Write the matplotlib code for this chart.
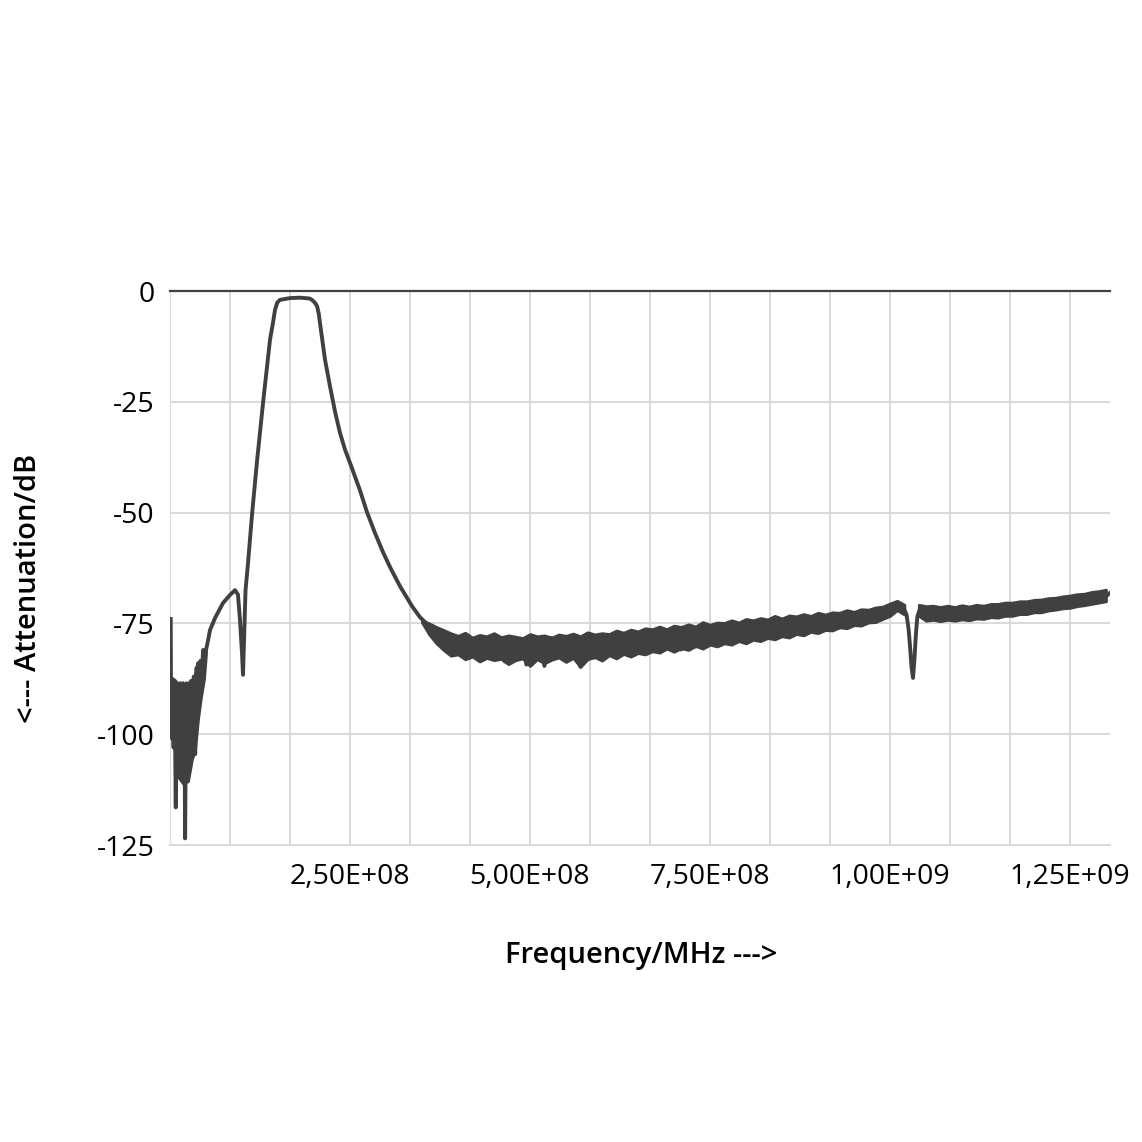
import numpy as np
import matplotlib
matplotlib.use("Agg")
import matplotlib.pyplot as plt
from matplotlib.ticker import FuncFormatter, MultipleLocator

# --- data (frequency in MHz, attenuation in dB) ---

# noisy start of the sweep
low_mhz = [1, 1.5, 2, 3, 4, 5, 6, 7, 8, 9, 10, 11, 12, 13, 14, 15, 16, 17, 18, 19,
           20, 21, 22, 23, 24, 25, 26, 27, 28, 29, 30, 31, 32, 33, 34, 35, 36, 37,
           38, 39, 40, 42, 44, 46, 48]
low_db = [-74, -97, -89, -101, -88.5, -103, -89, -100, -116.5, -95, -88.5, -102,
          -89.5, -99, -88.5, -103, -90, -100, -88.5, -108, -96, -123.5, -100, -88.5,
          -104, -89, -100, -88.5, -101, -88, -98, -88.5, -102, -87, -96, -104.5,
          -89, -85, -93, -84, -90, -83.5, -87, -81, -82.5]

# envelope of the noise at the start (max / min)
low_env_mhz = [2.8, 6.9, 11.1, 18, 25, 30.5, 34.7, 38.9, 43, 47.2, 50]
low_env_hi = [-87.3, -87.8, -88.8, -89.3, -89.8, -89.3, -86.3, -84.3, -83.3, -81.8, -80.3]
low_env_lo = [-100.3, -103.6, -109.6, -111.1, -110.6, -105.6, -103.6, -96.6, -91.6, -87.6, -81.8]

# notch, passband and upper skirt
edge_mhz = [52, 55.6, 62.5, 73.6, 83.3, 90.3, 94.4, 97.2, 100, 101.4, 103.2, 104.9,
            108.3, 113.9, 120.8, 129.2, 138.9, 143, 145.8, 149, 152.8, 166.7, 180.6,
            194, 197.2, 201, 204.2, 206.5, 208.3, 215.3, 222.2, 229.2, 236.1, 243.1,
            252.8, 263.9, 273.6, 284.7, 295.8, 305.6, 319.4, 336.1, 347.2, 361.1,
            375, 388]
edge_db = [-79.5, -76.5, -73.8, -70.4, -68.6, -67.5, -68.5, -74.2, -81.7, -86.6, -77,
           -67.5, -61.5, -50.5, -38.5, -25.3, -11, -7.2, -4.3, -2.6, -2.0, -1.6, -1.5,
           -1.7, -2.0, -2.6, -3.4, -5.0, -7.2, -15.5, -21.5, -27.2, -32.0, -35.8,
           -40.0, -45.0, -49.9, -54.6, -58.9, -62.3, -66.6, -71.1, -73.6, -75.8,
           -77.8, -78.8]

# stopband noise floor, 395 ... 1020 MHz in 5 MHz steps
band1_start, band1_step = 395, 5
band1_db = [
    -78.6, -81.2, -79.0, -82.3, -79.6, -81.8, -78.9, -82.5, -80.1, -78.4,
    -82.0, -79.3, -81.5, -78.7, -83.6, -80.2, -81.9, -78.5, -82.8, -79.4,
    -84.3, -80.0, -78.6, -82.4, -79.2, -84.6, -80.8, -78.3, -82.1, -79.7,
    -81.3, -78.2, -83.0, -79.5, -80.9, -84.8, -79.1, -81.6, -78.0, -82.7,
    -79.4, -81.4, -77.9, -82.2, -79.0, -80.8, -77.6, -81.9, -78.7, -80.5,
    -77.5, -81.2, -78.4, -80.6, -77.2, -81.0, -78.0, -79.9, -76.9, -80.6,
    -77.8, -79.6, -76.8, -80.9, -77.4, -79.3, -76.5, -80.2, -77.9, -78.6,
    -76.3, -79.5, -77.1, -78.8, -76.0, -79.4, -76.9, -78.3, -75.8, -79.0,
    -76.4, -77.9, -75.3, -78.6, -76.7, -77.4, -75.2, -78.0, -75.9, -77.3,
    -74.9, -77.5, -75.6, -76.8, -74.6, -77.0, -75.4, -76.2, -74.3, -76.6,
    -74.8, -75.9, -73.9, -76.3, -74.7, -75.5, -73.6, -75.8, -74.2, -75.1,
    -73.4, -75.4, -73.9, -74.6, -72.9, -74.8, -73.5, -74.0, -72.6, -73.8,
    -72.3, -73.1, -71.4, -70.6, -71.2, -71.9]

# narrow notch near 1.03 GHz
notch_mhz = [1023, 1026, 1028, 1030, 1032, 1034, 1036, 1038, 1041]
notch_db = [-73.0, -76.5, -80.5, -85.0, -87.3, -83.0, -77.5, -73.5, -72.0]

# 1045 ... 1305 MHz in 5 MHz steps
band2_start, band2_step = 1045, 5
band2_db = [
    -72.4, -73.5, -72.1, -73.3, -72.6, -73.6, -72.2, -73.2, -72.8, -73.4,
    -72.3, -73.1, -72.5, -73.3, -72.0, -72.9, -72.4, -73.0, -71.9, -72.8,
    -72.1, -72.7, -71.6, -72.5, -71.8, -72.3, -71.3, -72.2, -71.5, -71.9,
    -70.9, -71.8, -71.1, -71.4, -70.6, -71.2, -70.3, -70.9, -70.1, -70.7,
    -69.9, -70.6, -69.6, -70.3, -69.3, -69.9, -69.1, -69.7, -68.9, -69.2,
    -68.5, -68.9, -68.2]

# noise envelope of the stopband, 350 ... 1020 MHz in 10 MHz steps
env1_start, env1_step = 350, 10
env1_hi = [
    -74.3, -75.0, -75.8, -76.5, -77.2, -77.8, -77.1, -78.2, -77.6, -77.9,
    -77.2, -78.1, -77.7, -78.0, -78.3, -77.4, -77.9, -77.7, -78.2,
    -77.5, -77.8, -77.3, -77.9, -77.0, -77.5, -77.2, -77.4, -76.6, -77.1,
    -76.4, -76.8, -76.1, -76.3, -75.7, -76.3, -75.5, -75.8, -75.2, -75.7,
    -74.7, -75.3, -74.8, -74.9, -74.3, -74.8, -74.0, -74.3, -73.8, -74.1,
    -73.3, -73.9, -73.2, -73.4, -72.9, -73.3, -72.6, -73.0, -72.5, -72.6,
    -72.0, -72.4, -71.8, -71.9, -71.4, -71.2, -70.5, -69.9, -70.8]
env1_lo = [
    -74.8, -77.5, -79.5, -81.0, -82.3, -82.0, -83.1, -82.5, -83.6,
    -82.8, -83.3, -83.0, -84.2, -83.3, -82.9, -84.6, -83.1, -84.0, -83.2,
    -82.7, -83.7, -82.8, -84.8, -83.1, -82.6, -83.4, -82.2, -82.9, -81.9,
    -82.5, -81.7, -82.0, -81.3, -81.6, -80.7, -81.4, -80.6, -81.0, -80.1,
    -80.7, -79.8, -80.2, -79.5, -79.8, -79.0, -79.5, -78.7, -79.0, -78.3,
    -78.6, -77.9, -78.2, -77.4, -77.7, -76.9, -77.2, -76.5, -76.6, -75.9,
    -76.1, -75.4, -75.5, -74.8, -74.7, -74.0, -73.3, -72.0, -73.0]

# noise envelope after the notch, 1040 ... 1300 MHz in 10 MHz steps
env2_start, env2_step = 1040, 10
env2_hi = [
    -70.8, -71.1, -71.0, -71.3, -71.0, -71.3, -70.9, -71.2, -70.8, -71.0,
    -70.6, -70.6, -70.3, -70.3, -70.0, -70.0, -69.7, -69.6, -69.3, -69.2,
    -68.9, -68.7, -68.4, -68.3, -67.9, -67.7, -67.4]
env2_lo = [
    -73.3, -74.4, -74.2, -74.5, -74.2, -74.4, -74.1, -74.3, -73.9, -74.0,
    -73.6, -73.7, -73.3, -73.3, -72.9, -72.9, -72.5, -72.5, -72.1, -71.9,
    -71.6, -71.5, -71.1, -70.9, -70.6, -70.3, -70.0]

x_ticks = [2.5e8, 5.0e8, 7.5e8, 1.0e9, 1.25e9]
y_ticks = [0, -25, -50, -75, -100, -125]

band1_mhz = band1_start + band1_step * np.arange(len(band1_db))
band2_mhz = band2_start + band2_step * np.arange(len(band2_db))
env1_mhz = env1_start + env1_step * np.arange(len(env1_hi))
env2_mhz = env2_start + env2_step * np.arange(len(env2_hi))

freq = np.concatenate([low_mhz, edge_mhz, band1_mhz, notch_mhz, band2_mhz]) * 1e6
att = np.concatenate([low_db, edge_db, band1_db, notch_db, band2_db])

plt.rcParams['font.family'] = ['Open Sans', 'DejaVu Sans']

fig = plt.figure(figsize=(11.42, 11.42), dpi=100)
ax = fig.add_axes([170 / 1142, 1 - 845 / 1142, 940 / 1142, 554 / 1142])

line_c = '#404040'
grid_c = '#d9d9d9'

# noise bands of the trace
for fx, hi, lo in [(low_env_mhz, low_env_hi, low_env_lo),
                   (env1_mhz, env1_hi, env1_lo),
                   (env2_mhz, env2_hi, env2_lo)]:
    ax.fill_between(np.asarray(fx) * 1e6, hi, lo, color=line_c, lw=2.0, zorder=2)

ax.plot(freq, att, color=line_c, lw=2.8, solid_joinstyle='round', zorder=3)

ax.set_xlim(0, 1.3056e9)
ax.set_ylim(-125, 0)
ax.set_xticks(x_ticks)
ax.xaxis.set_minor_locator(MultipleLocator(2.5e8 / 3))
ax.set_yticks(y_ticks)
ax.xaxis.set_major_formatter(FuncFormatter(lambda v, p: ('%.2E' % v).replace('.', ',')))
ax.yaxis.set_major_formatter(FuncFormatter(lambda v, p: '%d' % v))

ax.grid(True, which='both', axis='x', color=grid_c, lw=1.4)
ax.grid(True, which='major', axis='y', color=grid_c, lw=1.4)
ax.set_axisbelow(True)

ax.tick_params(axis='both', which='both', length=0, labelsize=20.5, colors='#000000')
ax.tick_params(axis='x', pad=13)
ax.tick_params(axis='y', pad=11)

for s in ['left', 'right']:
    ax.spines[s].set_visible(False)
ax.spines['bottom'].set_color(grid_c)
ax.spines['bottom'].set_linewidth(1.4)
ax.spines['top'].set_color(line_c)
ax.spines['top'].set_linewidth(1.6)

fig.text(641 / 1142, 1 - 955 / 1142, 'Frequency/MHz --->', ha='center', va='center',
         fontsize=21, fontweight='semibold')
fig.text(29 / 1142, 1 - 588 / 1142, '<--- Attenuation/dB', ha='center', va='center',
         rotation=90, fontsize=21, fontweight='semibold')

fig.savefig('out.png', dpi=100, facecolor='white')
